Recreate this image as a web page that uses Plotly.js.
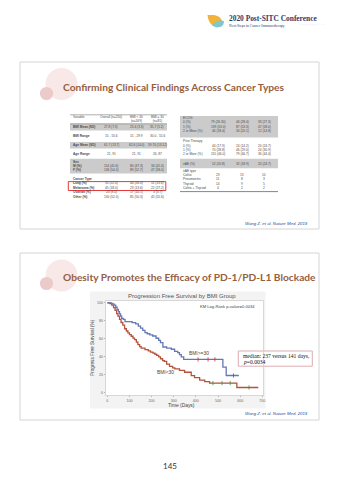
<!DOCTYPE html>
<html><head><meta charset="utf-8">
<script src="https://cdn.plot.ly/plotly-3.0.1.min.js"></script>
<style>html,body{margin:0;padding:0;background:#fff}#c{width:340px;height:481px}</style>
</head><body><div id="c"></div>
<script>
// ---------- DATA ----------
// Kaplan-Meier: BMI >= 30
const bmiHighDays = [0, 20, 30, 38, 44, 50, 55, 60, 65, 72, 80, 112, 128, 140, 150, 160, 170, 180, 192, 205, 220, 232, 240, 251, 268, 289, 304, 318, 326, 334, 345, 522, 537, 594];
const bmiHighSurv = [100, 98.8, 97.5, 95, 92.5, 90, 87.6, 85.2, 82.7, 81.5, 79, 77.8, 76.5, 74, 71.6, 69.1, 66.6, 65.4, 64.2, 62.9, 60.4, 58, 55.5, 50.6, 49.4, 48.1, 45.7, 44.4, 42, 39.5, 36.8, 28.2, 18.8, 18.8];
const bmiHighCensor = [410, 455, 486, 570];
// Kaplan-Meier: BMI < 30
const bmiLowDays = [0, 12, 20, 28, 35, 42, 48, 55, 62, 70, 78, 86, 93, 100, 108, 116, 123, 131, 138, 146, 153, 170, 185, 195, 206, 215, 223, 232, 240, 250, 258, 268, 281, 295, 305, 326, 349, 379, 394, 417, 440, 462, 585, 682];
const bmiLowSurv = [100, 99, 97.5, 94.5, 91.5, 88, 85, 81.5, 78, 75, 71, 68.5, 66.3, 64.5, 62.6, 60.5, 58.8, 56, 53.2, 51, 49.4, 47.6, 46.4, 45, 43.8, 42.5, 41.2, 39.5, 37.5, 35.5, 34.5, 31.5, 28.9, 27.2, 26.2, 24.4, 22.4, 18.7, 16.4, 13.7, 12, 10.3, 5.4, 5.4];
const bmiLowCensor = [477, 518, 555, 640];
const xTicks = [0, 100, 200, 300, 400, 500, 600, 700];
const yTicks = [0, 20, 40, 60, 80, 100];

// Left table (slide 1)
const leftHeader = ["Variable", "Overall (n=250)", "BMI < 30<br>(n=169)", "BMI ≥ 30<br>(n=81)"];
const leftLabels = ["BMI Mean (SD)", "BMI Range", "Age Mean (SD)", "Age Range", "Sex", "M (%)", "F (%)", "Cancer Type", "Lung (%)", "Melanoma (%)", "Ovarian (%)", "Other (%)"];
const leftOverall = ["27.8 (7.3)", "15 - 55.6", "61.7 (13.7)", "21, 91", "", "114 (45.6)", "136 (54.4)", "", "55 (22.0)", "45 (18.0)", "20 (8.0)", "130 (52.0)"];
const leftLow = ["23.4 (3.3)", "15 - 29.9", "62.6 (14.0)", "21, 91", "", "80 (47.3)", "89 (52.7)", "", "44 (26.0)", "23 (13.6)", "17 (10.1)", "85 (50.3)"];
const leftHigh = ["35.7 (5.2)", "30.0 - 55.6", "59.70 (13.12)", "26, 87", "", "34 (42.0)", "47 (58.0)", "", "11 (13.6)", "22 (27.2)", "3 (3.7)", "45 (55.6)"];
// Right table (slide 1)
const rightLabels = ["ECOG", "0 (%)", "1 (%)", "2 or More (%)", "Prior Therapy", "0 (%)", "1 (%)", "2 or More (%)", "irAE (%)", "irAE type", "Colitis", "Pneumonitis", "Thyroid", "Colitis + Thyroid"];
const rightOverall = ["", "79 (26.30)", "139 (53.0)", "46 (18.4)", "", "44 (17.9)", "70 (28.8)", "115 (46.0)", "52 (20.8)", "", "23", "11", "14", "4"];
const rightLow = ["", "46 (28.4)", "87 (53.3)", "34 (20.1)", "", "24 (14.2)", "46 (29.0)", "79 (46.7)", "32 (18.9)", "", "13", "8", "9", "2"];
const rightHigh = ["", "33 (27.3)", "47 (58.0)", "12 (14.8)", "", "20 (24.7)", "24 (30.9)", "36 (44.4)", "20 (24.7)", "", "10", "3", "5", "2"];

// ---------- LAYOUT HELPERS ----------
const W = 340, H = 481;
const X = p => p / W, Y = p => 1 - p / H;
const leftRowY = [127, 136, 145, 154, 162, 166, 170, 178.5, 183.3, 187.6, 192.4, 196.8];
const rightRowY = [118, 122.2, 126.6, 131, 141.5, 145.8, 150, 154.4, 163.5, 171.3, 175.4, 179.4, 183.6, 187.8];

function stepAt(days, surv, t) {
  let v = surv[0];
  for (let i = 0; i < days.length; i++) { if (days[i] <= t) v = surv[i]; }
  return v;
}

const blue = '#6578b3', red = '#b4523b';
const traces = [
  {x: bmiLowDays, y: bmiLowSurv, type: 'scatter', mode: 'lines', line: {shape: 'hv', color: red, width: 1.3}, hoverinfo: 'skip'},
  {x: bmiHighDays, y: bmiHighSurv, type: 'scatter', mode: 'lines', line: {shape: 'hv', color: blue, width: 1.3}, hoverinfo: 'skip'},
  {x: bmiLowCensor, y: bmiLowCensor.map(t => stepAt(bmiLowDays, bmiLowSurv, t)), type: 'scatter', mode: 'markers',
   marker: {symbol: 'line-ns-open', size: 3, line: {color: red, width: 0.8}}, hoverinfo: 'skip'},
  {x: bmiHighCensor, y: bmiHighCensor.map(t => stepAt(bmiHighDays, bmiHighSurv, t)), type: 'scatter', mode: 'markers',
   marker: {symbol: 'line-ns-open', size: 3, line: {color: blue, width: 0.8}}, hoverinfo: 'skip'}
];

const shapes = [];
const ann = [];
const rect = (x0, y0, x1, y1, fill, line, lw) => shapes.push({type: 'rect', xref: 'paper', yref: 'paper', x0: X(x0), x1: X(x1), y0: Y(y1), y1: Y(y0), fillcolor: fill, line: {color: line || 'rgba(0,0,0,0)', width: lw || 0}, layer: 'below'});
const circ = (cx, cy, r, fill) => shapes.push({type: 'circle', xref: 'paper', yref: 'paper', x0: X(cx - r), x1: X(cx + r), y0: Y(cy + r), y1: Y(cy - r), fillcolor: fill, line: {width: 0}, layer: 'below'});
const hline = (x0, x1, y, color, w) => shapes.push({type: 'line', xref: 'paper', yref: 'paper', x0: X(x0), x1: X(x1), y0: Y(y), y1: Y(y), line: {color: color, width: w}, layer: 'below'});
const txt = (x, y, text, size, color, opts) => ann.push(Object.assign({xref: 'paper', yref: 'paper', x: X(x), y: Y(y), text: text, showarrow: false,
  font: {size: size, color: color, family: 'Liberation Sans, Arial'}, xanchor: 'center', yanchor: 'middle'}, opts || {}));

// slide frames
rect(20, 62, 319, 229, '#ffffff', '#d4d4d4', 1);
rect(20, 253, 319, 420, '#ffffff', '#d4d4d4', 1);
// decorative circles
circ(61.5, 84, 16, '#f8e8e8'); circ(46.5, 93.5, 6.6, '#ebcaca');
circ(61.5, 275.5, 16, '#f8e8e8'); circ(46.5, 283.5, 6.6, '#ebcaca');

// header logo
shapes.push({type: 'path', xref: 'paper', yref: 'paper', path: `M ${X(207.5)},${Y(15)} L ${X(214)},${Y(15)} Q ${X(222)},${Y(16)} ${X(223)},${Y(24)} L ${X(213)},${Y(26)} Q ${X(208)},${Y(22)} ${X(207.5)},${Y(15)} Z`, fillcolor: '#f0b33c', line: {width: 0}, layer: 'below'});
shapes.push({type: 'path', xref: 'paper', yref: 'paper', path: `M ${X(212)},${Y(25)} Q ${X(218)},${Y(19)} ${X(224)},${Y(21)} Q ${X(224)},${Y(27.5)} ${X(217)},${Y(27.5)} Q ${X(214)},${Y(27)} ${X(212)},${Y(25)} Z`, fillcolor: '#7fc7cf', line: {width: 0}, layer: 'below'});
txt(227, 18.6, '<b>2020 Post-SITC Conference</b>', 7.4, '#2b3a6b', {xanchor: 'left', font: {size: 7.4, color: '#2b3a6b', family: 'Liberation Serif, DejaVu Serif'}});
txt(227, 25.6, 'Next Steps in Cancer Immunotherapy', 3.7, '#2b3a6b', {xanchor: 'left', font: {size: 3.7, color: '#2b3a6b', family: 'Liberation Serif, DejaVu Serif'}});
txt(296.5, 25.3, '· · : : : : : : : · · · ·', 3.6, '#e8a33a', {xanchor: 'left'});

// slide titles
const titleFont = {size: 10.2, color: '#96603f', family: 'Lato, Open Sans, sans-serif'};
txt(61, 86.8, '<b>Confirming Clinical Findings Across Cancer Types</b>', 10.2, titleFont.color, {xanchor: 'left', font: titleFont});
txt(61, 277, '<b>Obesity Promotes the Efficacy of PD-1/PD-L1 Blockade</b>', 10.2, titleFont.color, {xanchor: 'left', font: titleFont});

// citations
const citeFont = {size: 4.3, color: '#2f4a9c', family: 'Liberation Sans, Arial'};
txt(310, 223.2, '<i>Wang Z. et al. Nature Med. 2019</i>', 4.3, citeFont.color, {xanchor: 'right', font: citeFont});
txt(310, 413.3, '<i>Wang Z. et al. Nature Med. 2019</i>', 4.3, citeFont.color, {xanchor: 'right', font: citeFont});
// page number
txt(170, 466, '145', 8, '#333333', {font: {size: 8, color: '#333', family: 'Lato, sans-serif'}});

// ---- left table ----
const tf = 3.2, tc = '#4a4a4a';
rect(70, 124, 167, 130.6, '#cbcbcb'); rect(70, 142, 167, 148.6, '#cbcbcb'); rect(70, 158.8, 167, 173.4, '#cbcbcb');
hline(70, 167, 114.8, '#777', 0.6); hline(70, 167, 123.8, '#666', 0.6);
txt(71, 117.3, leftHeader[0], tf, tc, {xanchor: 'left'});
txt(111, 117.3, leftHeader[1], tf, tc);
txt(136.5, 119.2, leftHeader[2], tf, tc);
txt(157, 119.2, leftHeader[3], tf, tc);
leftLabels.forEach((l, i) => {
  txt(71, leftRowY[i], '<b>' + l + '</b>', tf, tc, {xanchor: 'left'});
  txt(111, leftRowY[i], leftOverall[i], tf, tc);
  txt(136.5, leftRowY[i], leftLow[i], tf, tc);
  txt(157, leftRowY[i], leftHigh[i], tf, tc);
});
rect(68.3, 181.6, 165.8, 190.5, 'rgba(0,0,0,0)', '#e02424', 0.9);
shapes[shapes.length - 1].layer = 'above';

// ---- right table ----
rect(180, 116, 278, 137.6, '#cbcbcb'); rect(180, 158.8, 278, 168.2, '#cbcbcb');
hline(180, 278, 191.6, '#666', 0.8);
rightLabels.forEach((l, i) => {
  txt(181, rightRowY[i], l, tf, tc, {xanchor: 'left'});
  txt(218, rightRowY[i], rightOverall[i], tf, tc);
  txt(242, rightRowY[i], rightLow[i], tf, tc);
  txt(264, rightRowY[i], rightHigh[i], tf, tc);
});

// ---- KM figure ----
rect(90, 291.5, 265.5, 408.5, '#f3f3f3');
rect(106, 301, 263.5, 395, '#ffffff');
txt(181.5, 296.2, 'Progression Free Survival by BMI Group', 6, '#555');
txt(257, 306, 'KM Log-Rank p-value=0.0034', 4.1, '#444', {xanchor: 'right'});
txt(199, 353.2, 'BMI>=30', 4.9, '#444');
txt(165, 372.6, 'BMI<30', 4.9, '#444');
txt(181.5, 405, 'Time (Days)', 4.9, '#444');
txt(92, 348, 'Progress Free Survival (%)', 4.7, '#444', {textangle: -90});
// median box
rect(238.3, 351, 312.3, 366.2, '#ffffff', '#d9a3a8', 0.9);
const serif = {size: 5.6, color: '#111', family: 'Liberation Serif, DejaVu Serif'};
txt(240.5, 355.6, 'median: 237 versus 141 days,', 5.6, '#111', {xanchor: 'left', font: serif});
txt(240.5, 362, '<i>p</i>=0.0034', 5.6, '#111', {xanchor: 'left', font: serif});

const layout = {
  width: W, height: H, margin: {l: 0, r: 0, t: 0, b: 0},
  paper_bgcolor: '#ffffff', plot_bgcolor: 'rgba(0,0,0,0)', showlegend: false,
  xaxis: {domain: [X(106), X(263.5)], range: [-6, 705.5], tickvals: xTicks, ticks: 'outside', ticklen: 1.5, tickwidth: 0.6, tickcolor: '#888',
          tickfont: {size: 3.6, color: '#666', family: 'Liberation Sans'}, showgrid: false, zeroline: false,
          showline: true, mirror: true, linecolor: '#cfcfcf', linewidth: 0.8, fixedrange: true},
  yaxis: {domain: [Y(395), Y(301)], range: [-3, 102], tickvals: yTicks, ticks: 'outside', ticklen: 1.5, tickwidth: 0.6, tickcolor: '#888',
          tickfont: {size: 3.6, color: '#666', family: 'Liberation Sans'}, showgrid: false, zeroline: false,
          showline: true, mirror: true, linecolor: '#cfcfcf', linewidth: 0.8, fixedrange: true},
  shapes: shapes, annotations: ann
};
Plotly.newPlot('c', traces, layout, {staticPlot: true, displayModeBar: false});
</script></body></html>
